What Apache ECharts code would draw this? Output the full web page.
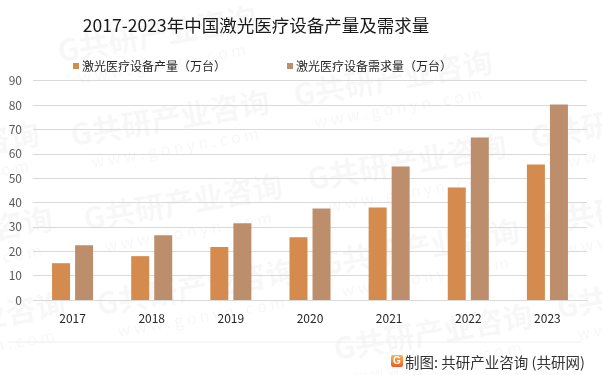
<!DOCTYPE html>
<html><head><meta charset="utf-8">
<script src="https://cdn.jsdelivr.net/npm/echarts@6/dist/echarts.min.js"></script>
<style>html,body{margin:0;padding:0;background:#fff}#c{width:602px;height:375px}</style>
</head><body><div id="c"></div>
<script>
const categories = ['2017','2018','2019','2020','2021','2022','2023'];
const production = [15.1, 18.0, 21.7, 25.8, 38.0, 46.2, 55.6];
const demand = [22.5, 26.6, 31.5, 37.6, 54.8, 66.7, 80.2];
const seriesNames = ['激光医疗设备产量（万台）','激光医疗设备需求量（万台）'];
const titleText = '2017-2023年中国激光医疗设备产量及需求量';
const footerText = '制图: 共研产业咨询 (共研网)';
const watermarkMain = 'G共研产业咨询';
const watermarkSub = 'w w w . g o n y n . c o m';

const chart = echarts.init(document.getElementById('c'));
const font = '"Noto Sans CJK SC", "Noto Sans", sans-serif';

const wmCenters = [[170,118],[183,202],[196,287],[157,34],
  [393,78],[407,162],[420,247],[433,332],
  [-60,150],[-47,235],[-34,320],[630,120],[643,205],[656,290]];
const wm = wmCenters.map(function(p){
  return {type: 'group', x: p[0], y: p[1], rotation: 0.17, z: -10, silent: true,
    children: [
      {type: 'text', style: {x: 0, y: 0, text: watermarkMain, fill: 'rgba(0,0,0,0.03)', font: 'bold 30px ' + font, align: 'center', verticalAlign: 'middle'}},
      {type: 'text', style: {x: 0, y: 30, text: watermarkSub, fill: 'rgba(0,0,0,0.035)', font: '16px ' + font, align: 'center', verticalAlign: 'middle'}}
    ]};
});

chart.setOption({
  animation: false,
  title: {text: titleText, left: 251, textAlign: 'center', top: 12,
    textStyle: {fontSize: 17.5, fontWeight: 'normal', color: '#1a1a1a', fontFamily: font}},
  legend: {top: 55, left: 68, itemWidth: 6, itemHeight: 6, itemGap: 61, icon: 'rect',
    textStyle: {fontSize: 12, color: '#262626', fontFamily: font, padding: [0,0,0,-2]},
    data: seriesNames},
  grid: {left: 33, right: 15, top: 80.7, bottom: 75},
  xAxis: {type: 'category', data: categories,
    axisLine: {lineStyle: {color: '#d9d9d9'}}, axisTick: {show: false},
    axisLabel: {fontSize: 12, color: '#262626', margin: 12, fontFamily: font}},
  yAxis: {type: 'value', min: 0, max: 90, interval: 10,
    splitLine: {lineStyle: {color: '#d9d9d9'}},
    axisLabel: {fontSize: 12, color: '#595959', margin: 11, fontFamily: font}},
  series: [
    {name: seriesNames[0], type: 'bar', data: production, barWidth: 18, barGap: '28%', itemStyle: {color: '#d48b4d'}},
    {name: seriesNames[1], type: 'bar', data: demand, barWidth: 18, itemStyle: {color: '#bc8e6c'}}
  ],
  graphic: wm.concat([
    {type: 'line', shape: {x1: 8, y1: 342, x2: 582, y2: 342}, style: {stroke: '#eeeeee', lineWidth: 1}},
    {type: 'rect', shape: {x: 391, y: 355, width: 12, height: 12, r: 2},
      style: {fill: new echarts.graphic.LinearGradient(0,0,0,1,[{offset:0,color:'#f7b84a'},{offset:1,color:'#ee5a2a'}])}},
    {type: 'text', style: {x: 397, y: 361, text: 'G', fill: '#fff', font: 'bold 10px sans-serif', align: 'center', verticalAlign: 'middle'}},
    {type: 'text', style: {x: 405, y: 362, text: footerText, fill: '#333', font: '14.5px ' + font, verticalAlign: 'middle'}}
  ])
});
</script></body></html>
